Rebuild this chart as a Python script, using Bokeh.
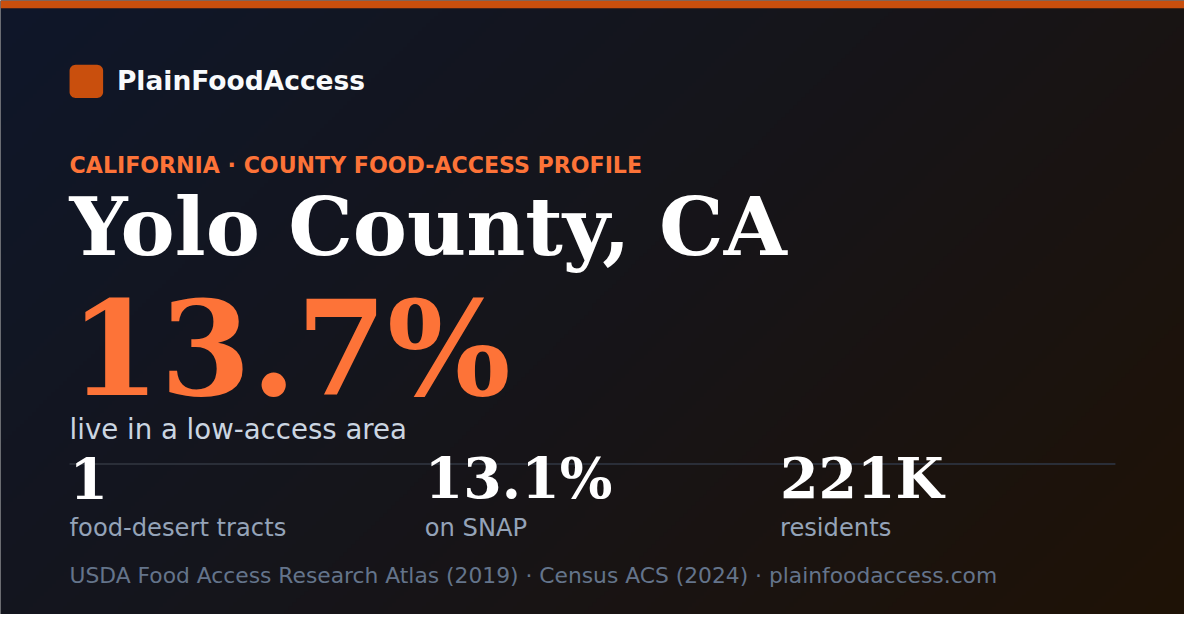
import numpy as np
from bokeh.plotting import figure
from bokeh.models import Range1d, ColumnDataSource
from bokeh.core.properties import value
from bokeh.embed import file_html
from bokeh.resources import INLINE

# ---- content ----
brand = "PlainFoodAccess"
eyebrow = "CALIFORNIA · COUNTY FOOD-ACCESS PROFILE"
county = "Yolo County, CA"
headline_value = "13.7%"
headline_label = "live in a low-access area"
stat_values = ["1", "13.1%", "221K"]
stat_labels = ["food-desert tracts", "on SNAP", "residents"]
source_note = "USDA Food Access Research Atlas (2019) · Census ACS (2024) · plainfoodaccess.com"

# ---- layout (reference pixel space, y measured from top) ----
W, H = 1200, 630
PW, PH = 1184, 614
SX, SY = PW / W, PH / H
stat_x = [70, 430, 790]
ORANGE = "#c94f0d"
ACCENT = "#fd7338"


def Y(py):
    return H - py


p = figure(width=PW, height=PH, output_backend="svg", toolbar_location=None,
           x_range=Range1d(0, W), y_range=Range1d(0, H),
           min_border=0, background_fill_color="#15161c", border_fill_color="#15161c")
p.axis.visible = False
p.grid.visible = False
p.outline_line_color = None

# background diagonal gradient (135deg)
gw, gh = 300, 158
xs = (np.arange(gw) + 0.5) / gw * W
ys = (np.arange(gh) + 0.5) / gh * H
XX, YY = np.meshgrid(xs, ys)
L = W * 0.7071 + H * 0.7071
t = ((XX - W / 2) * 0.7071 + (YY - H / 2) * 0.7071) / L + 0.5
t = np.clip(t, 0, 1)
stops_t = [0.0, 0.5, 1.0]
stops_c = [(15, 23, 42), (22, 21, 26), (31, 18, 6)]
img = np.zeros((gh, gw), dtype=np.uint32)
view = img.view(dtype=np.uint8).reshape((gh, gw, 4))
for ch in range(3):
    view[:, :, ch] = np.interp(t, stops_t, [c[ch] for c in stops_c]).astype(np.uint8)
view[:, :, 3] = 255
img = img[::-1]  # row 0 at bottom
p.image_rgba(image=[img], x=0, y=0, dw=W, dh=H)

# top accent bar
p.quad(left=0, right=W, bottom=Y(8), top=Y(0), fill_color=ORANGE, line_color=None)

# logo rounded square
r = 6
x0, x1, y0, y1 = 70, 104, 66, 100
ang = np.linspace(0, np.pi / 2, 10)
cx = np.concatenate([x1 - r + r * np.cos(ang), x0 + r - r * np.sin(ang),
                     x0 + r - r * np.cos(ang), x1 - r + r * np.sin(ang)])
cy = np.concatenate([y0 + r - r * np.sin(ang), y0 + r - r * np.cos(ang),
                     y1 - r + r * np.sin(ang), y1 - r + r * np.cos(ang)])
p.patch(cx, [Y(v) for v in cy], fill_color=ORANGE, line_color=None)


def txt(x, py, s, size, color, font="DejaVu Sans", style="normal"):
    fs = round(size * 0.98, 1)
    # compensate baseline placement offset (~0.385 em)
    off = 0.385 * fs / SY
    src = ColumnDataSource(dict(x=x, y=[Y(v) + off for v in py], t=s))
    p.text(x="x", y="y", text="t", source=src, text_color=color,
           text_font=value(font), text_font_style=style,
           text_font_size=value(f"{fs}px"), text_align="left",
           text_baseline="alphabetic")


txt([118], [92.5], [brand], 27, "#f8fafc", style="bold")
txt([70], [177.5], [eyebrow], 22.5, ACCENT, style="bold")
txt([70], [263.5], [county], 83, "#ffffff", font="DejaVu Serif", style="bold")
txt([70], [409.5], [headline_value], 133, ACCENT, font="DejaVu Serif", style="bold")
txt([70], [451.5], [headline_label], 28.2, "#cbd5e1")

# divider
p.line([70, 1130], [Y(475.5), Y(475.5)], line_color="#2a2e38", line_width=2)

txt(stat_x, [512.7] * 3, stat_values, 56.5, "#ffffff", font="DejaVu Serif", style="bold")
txt(stat_x, [551] * 3, stat_labels, 24.7, "#94a3b8")
txt([70], [599], [source_note], 22.2, "#64748b")

open("out.html", "w").write(file_html(p, INLINE))
